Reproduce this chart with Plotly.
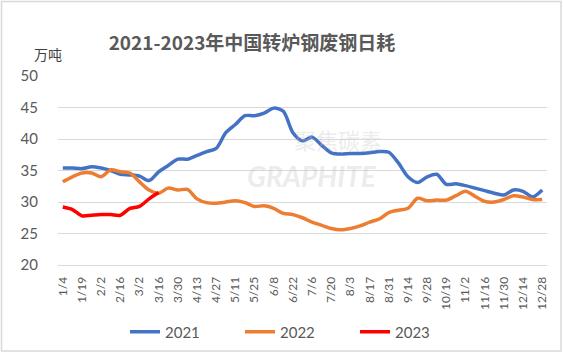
import plotly.graph_objects as go

categories = ["1/4", "1/12", "1/19", "1/26", "2/2", "2/9", "2/16", "2/23", "3/2", "3/9",
              "3/16", "3/23", "3/30", "4/6", "4/13", "4/20", "4/27", "5/4", "5/11", "5/18",
              "5/25", "6/1", "6/8", "6/15", "6/22", "6/29", "7/6", "7/13", "7/20", "7/27",
              "8/3", "8/10", "8/17", "8/24", "8/31", "9/7", "9/14", "9/21", "9/28", "10/12",
              "10/19", "10/26", "11/2", "11/9", "11/16", "11/23", "11/30", "12/7", "12/14", "12/21",
              "12/28"]

y2021 = [35.4, 35.4, 35.3, 35.6, 35.4, 35.0, 34.4, 34.3, 34.1, 33.4,
         34.8, 35.8, 36.8, 36.8, 37.4, 38.0, 38.5, 41.0, 42.3, 43.7,
         43.7, 44.1, 44.9, 44.4, 41.0, 39.7, 40.3, 39.0, 37.8, 37.6,
         37.7, 37.7, 37.8, 38.0, 37.9, 36.2, 34.0, 33.1, 34.0, 34.4,
         32.8, 32.9, 32.6, 32.2, 31.8, 31.4, 31.1, 31.9, 31.7, 30.8,
         31.9]

y2022 = [33.2, 34.0, 34.6, 34.6, 34.0, 35.1, 34.8, 34.6, 33.2, 31.9,
         31.4, 32.2, 31.9, 32.0, 30.5, 29.9, 29.8, 30.0, 30.2, 29.9,
         29.3, 29.4, 29.0, 28.2, 28.0, 27.5, 26.8, 26.3, 25.8, 25.6,
         25.8, 26.2, 26.8, 27.3, 28.3, 28.7, 29.0, 30.6, 30.2, 30.3,
         30.3, 31.0, 31.7, 30.9, 30.1, 30.0, 30.4, 31.0, 30.8, 30.4,
         30.4]

y2023 = [29.2, 28.8, 27.8, 27.9, 28.0, 28.0, 27.9, 29.0, 29.3, 30.5,
         31.5]

tick_labels = categories[::2]
y_ticks = [20, 25, 30, 35, 40, 45, 50]

series = [("2021", y2021, "#4472C4"), ("2022", y2022, "#ED7D31"), ("2023", y2023, "#FF0000")]

FONT = "Lato, 'Noto Sans CJK SC', sans-serif"
GREY = "#595959"

fig = go.Figure()
for name, ys, col in series:
    fig.add_trace(go.Scatter(
        x=categories[:len(ys)], y=ys, name=name, mode="lines",
        line=dict(color=col, width=3.5, shape="spline", smoothing=0.8),
        hoverinfo="skip"))

W, H = 564, 354
L, R, T, B = 58, 17, 76, 89
pw, ph = W - L - R, H - T - B

def px_x(p):
    return (p - L) / pw

def px_y(p):
    return (H - B - p) / ph

fig.update_layout(
    width=W, height=H,
    margin=dict(l=L, r=R, t=T, b=B, autoexpand=False),
    paper_bgcolor="white", plot_bgcolor="white",
    font=dict(family=FONT, color=GREY),
    title=dict(text="<b>2021-2023年中国转炉钢废钢日耗</b>",
               font=dict(size=19, color=GREY, family="'Noto Sans CJK SC', sans-serif"),
               x=252 / W, xanchor="center", xref="container",
               y=1 - 43 / H, yanchor="middle", yref="container"),
    xaxis=dict(type="category", categoryorder="array", categoryarray=categories,
               range=[-0.5, len(categories) - 0.5],
               tickmode="array", tickvals=tick_labels, ticktext=tick_labels,
               tickangle=-90, tickfont=dict(size=12, color=GREY, family=FONT),
               showgrid=False, showline=True, linecolor="#d9d9d9", linewidth=1,
               ticks="", ticklabelstandoff=6, zeroline=False, fixedrange=True,
               automargin=False),
    yaxis=dict(range=[20, 50], tickmode="array", tickvals=y_ticks,
               tickfont=dict(size=15, color=GREY, family=FONT),
               showgrid=True, gridcolor="#d9d9d9", gridwidth=1,
               showline=False, zeroline=False, ticks="", ticklabelstandoff=19,
               fixedrange=True, automargin=False),
    legend=dict(orientation="h", x=px_x(125), xanchor="left",
                y=px_y(332), yanchor="middle",
                font=dict(size=15, color=GREY, family=FONT),
                entrywidth=70, entrywidthmode="pixels",
                bgcolor="rgba(0,0,0,0)", itemclick=False, itemdoubleclick=False),
    showlegend=True,
)

fig.add_annotation(text="万吨", xref="paper", yref="paper",
                   x=px_x(48), y=px_y(54), xanchor="center", yanchor="middle",
                   showarrow=False,
                   font=dict(size=14, color="#404040", family="'Noto Sans CJK SC', sans-serif"))

# faint watermark
fig.add_annotation(text="聚焦碳素", xref="paper", yref="paper",
                   x=px_x(338), y=px_y(139), xanchor="center", yanchor="middle",
                   showarrow=False,
                   font=dict(size=22, color="rgba(190,190,190,0.3)",
                             family="'Noto Sans CJK SC', sans-serif"))
fig.add_annotation(text="<b><i>GRAPHITE</i></b>", xref="paper", yref="paper",
                   x=px_x(312), y=px_y(176), xanchor="center", yanchor="middle",
                   showarrow=False,
                   font=dict(size=28, color="rgba(190,190,190,0.3)", family="Lato"))

# chart-area border
fig.add_shape(type="rect", xref="paper", yref="paper",
              x0=px_x(1.5), x1=px_x(561), y0=px_y(351), y1=px_y(1.5),
              line=dict(color="#d9d9d9", width=1.5), fillcolor="rgba(0,0,0,0)",
              layer="below")

fig.write_html("out.html")
